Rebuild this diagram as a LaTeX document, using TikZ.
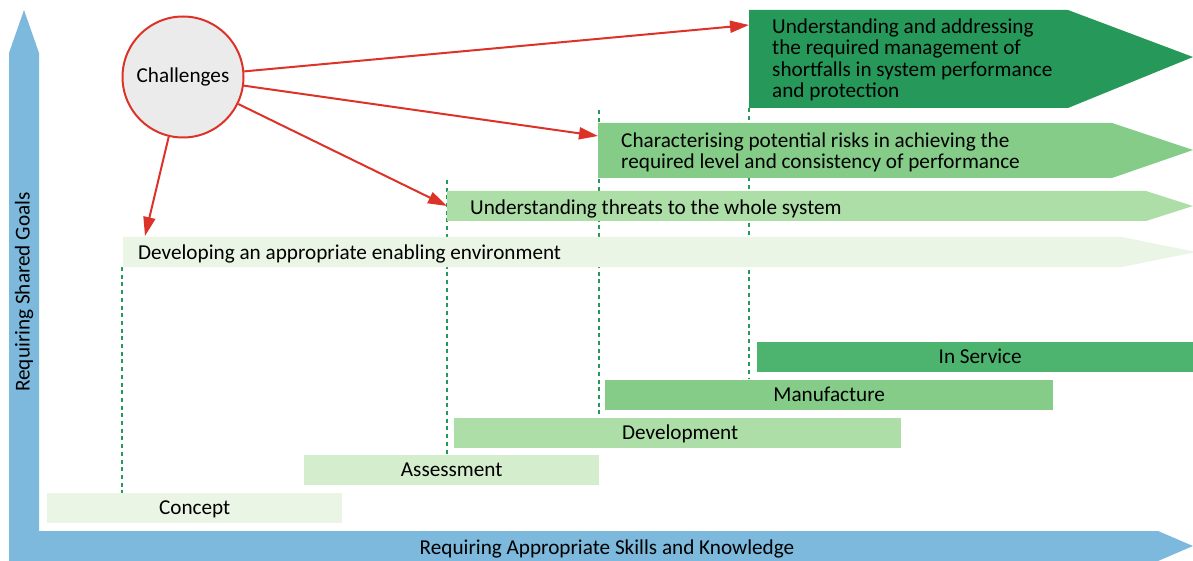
\documentclass[tikz,border=0pt]{standalone}
\usepackage{fontspec}
\setmainfont{Carlito}
\usetikzlibrary{arrows.meta}
\definecolor{axisblue}{HTML}{7CB9DC}
\definecolor{gA}{HTML}{EAF5E6}
\definecolor{gB}{HTML}{D3EDCD}
\definecolor{gC}{HTML}{AEDEA8}
\definecolor{gD}{HTML}{84CC88}
\definecolor{gE}{HTML}{4DB46F}
\definecolor{gF}{HTML}{26995A}
\definecolor{chred}{HTML}{DC3228}
\definecolor{chfill}{HTML}{EBEBEB}
\pgfdeclarelayer{bg}
\pgfsetlayers{bg,main}
\tikzset{
  txt/.style={font=\fontsize{21.2}{21.3}\selectfont, text=black, inner sep=0pt},
  freetxt/.style={txt, yshift=-2pt},
  phase/.style={txt, rectangle, minimum height=30, text height=13.5, text depth=1.5, anchor=north west},
  dotline/.style={draw=gF, line width=2pt, dash pattern=on 4pt off 3.7pt},
  redarrow/.style={draw=chred, line width=2pt, -{Triangle[length=19pt,width=12pt]}, fill=chred},
}
\begin{document}
\begin{tikzpicture}[x=1pt,y=-1pt]
\useasboundingbox (0,0) rectangle (1193,561);
% axes
\fill[axisblue] (9,561) -- (9,53) -- (24,10) -- (39,53) -- (39,531) -- (1158,531) -- (1193,546) -- (1158,561) -- cycle;
\node[txt, rotate=90] (ylab) at (24,292) {Requiring Shared Goals};
\node[freetxt] (xlab) at (607,547) {Requiring Appropriate Skills and Knowledge};
% phase bars
\node[phase, fill=gA, minimum width=295] (concept) at (47,493) {Concept};
\node[phase, fill=gB, minimum width=295] (assess) at (304,455) {Assessment};
\node[phase, fill=gC, minimum width=447] (devel) at (454,418) {\hspace*{5pt}Development};
\node[phase, fill=gD, minimum width=448] (manuf) at (605,380) {Manufacture};
\node[phase, fill=gE, minimum width=436] (inserv) at (757,342) {\hspace*{10pt}In Service};
% goal arrows
\fill[gA] (123,237) -- (1122,237) -- (1196,252) -- (1122,267) -- (123,267) -- cycle;
\node[freetxt, anchor=west] (envt) at (138,252) {Developing an appropriate enabling environment};
\fill[gC] (447,191) -- (1146,191) -- (1193,206) -- (1146,221) -- (447,221) -- cycle;
\node[freetxt, anchor=west] (threat) at (470,207) {Understanding threats to the whole system};
\fill[gD] (598,123) -- (1112,123) -- (1193,150) -- (1112,178) -- (598,178) -- cycle;
\node[freetxt, anchor=west, align=left] (risk) at (621,150) {Characterising potential risks in achieving the\\required level and consistency of performance};
\fill[gF] (749,10) -- (1068,10) -- (1193,57) -- (1068,108) -- (749,108) -- cycle;
\node[freetxt, anchor=west, align=left] (short) at (772,58) {Understanding and addressing\\the required management of\\shortfalls in system performance\\and protection};
% coordinates
\coordinate (envtL) at (122,267);
\coordinate (threatL) at (447,221);
\coordinate (riskL) at (599,178);
\coordinate (shortL) at (749,108);
\coordinate (conceptT) at (122,493);
\coordinate (assessT) at (447,454);
\coordinate (develT) at (599,414);
\coordinate (manufT) at (749,379);
\begin{pgfonlayer}{bg}
\draw[dotline] (threatL |- 0,180) -- (assessT);
\draw[dotline] (riskL |- 0,110) -- (develT);
\draw[dotline] (shortL) -- (manufT);
\draw[dotline] (envtL) -- (conceptT);
\end{pgfonlayer}
% challenges
\node[txt, circle, draw=chred, line width=2pt, fill=chfill, minimum size=121] (ch) at (183,77) {Challenges};
\coordinate (t1) at (749,25);
\coordinate (t2) at (598,136);
\coordinate (t3) at (447,206);
\coordinate (t4) at (145,236);
\draw[redarrow] (ch) -- (t1);
\draw[redarrow] (ch) -- (t2);
\draw[redarrow] (ch) -- (t3);
\draw[redarrow] (ch) -- (t4);
\end{tikzpicture}
\end{document}
